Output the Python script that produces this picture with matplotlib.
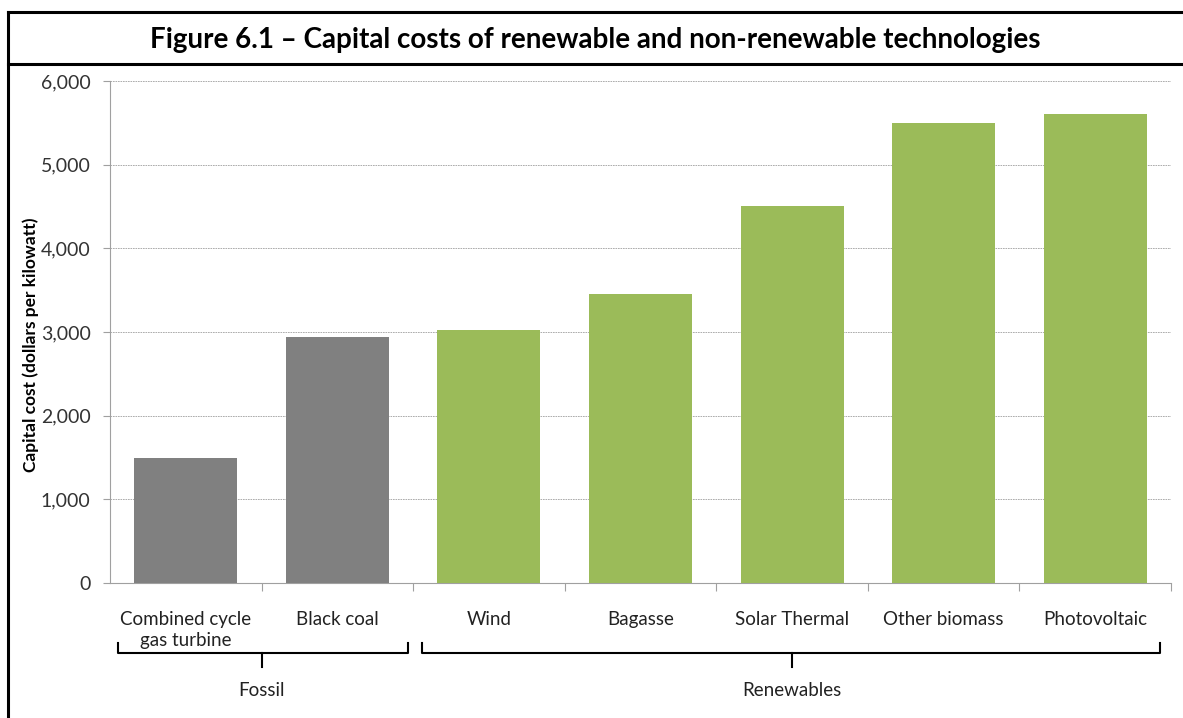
import matplotlib
matplotlib.use("Agg")
import matplotlib.pyplot as plt
from matplotlib.lines import Line2D
from matplotlib.ticker import FuncFormatter, MultipleLocator
import matplotlib.transforms as mtransforms

categories = ["Combined cycle\ngas turbine", "Black coal", "Wind", "Bagasse",
              "Solar Thermal", "Other biomass", "Photovoltaic"]
values = [1500, 2940, 3020, 3460, 4510, 5500, 5610]
groups = ["Fossil", "Fossil", "Renewables", "Renewables", "Renewables", "Renewables", "Renewables"]
group_names = ["Fossil", "Renewables"]
title = "Figure 6.1 \u2013 Capital costs of renewable and non-renewable technologies"
ylabel = "Capital cost (dollars per kilowatt)"

colors = {"Fossil": "#808080", "Renewables": "#9BBB59"}
plt.rcParams['font.family'] = ['Lato', 'DejaVu Sans']

W, H = 1183, 718
fig = plt.figure(figsize=(W / 100, H / 100), dpi=100)

def fx(px):
    return px / W

def fy(py):
    return 1 - py / H

ax = fig.add_axes([fx(110), fy(583), fx(1171) - fx(110), fy(81) - fy(583)])
x = list(range(len(categories)))
ax.bar(x, values, width=0.68, color=[colors[g] for g in groups], zorder=3)
ax.set_xlim(-0.5, len(categories) - 0.5)
ax.set_ylim(0, 6000)
ax.yaxis.set_major_locator(MultipleLocator(1000))
ax.yaxis.set_major_formatter(FuncFormatter(lambda v, p: f"{int(v):,}"))
ax.grid(axis='y', color='#A0A0A0', linestyle=(0, (2, 1)), linewidth=0.6, zorder=0)
for s in ['top', 'right']:
    ax.spines[s].set_visible(False)
ax.spines['left'].set_color('#A0A0A0')
ax.spines['bottom'].set_color('#A0A0A0')
ax.tick_params(axis='y', length=5, color='#A0A0A0', labelsize=14, labelcolor='#333333', pad=9)
# x ticks at category boundaries
ax.set_xticks([i + 0.5 for i in range(len(categories))])
ax.set_xticklabels([])
ax.set_xticks(x, minor=True)
ax.set_xticklabels(categories, minor=True, fontsize=13.5, color='#222222', linespacing=1.28)
ax.tick_params(axis='x', which='major', length=6, color='#A0A0A0')
ax.tick_params(axis='x', which='minor', length=0, pad=20)
for lbl in ax.get_xticklabels(minor=True):
    lbl.set_verticalalignment('top')

# Brackets
trans = mtransforms.blended_transform_factory(ax.transData, fig.transFigure)
def bracket(x0, x1, xc, label):
    y_top, y_line, y_tip = fy(643), fy(653), fy(667)
    ax.add_line(Line2D([x0, x0, x1, x1], [y_top, y_line, y_line, y_top], transform=trans,
                       color='black', lw=1.5, clip_on=False, solid_joinstyle='round'))
    ax.add_line(Line2D([xc, xc], [y_line, y_tip], transform=trans,
                       color='black', lw=1.5, clip_on=False))
    ax.text(xc, fy(690), label, transform=trans, fontsize=13.5, color='#222222',
            ha='center', va='center', clip_on=False)

bracket(-0.447, 1.466, 0.5, group_names[0])
bracket(1.558, 6.427, 4.0, group_names[1])

# y label
fig.text(fx(31), fy(345), ylabel, rotation=90, fontsize=12.5, fontweight='bold',
         ha='center', va='center', color='black')

# Title and frame
fig.text(0.5 + fx(8) / 2, fy(40), title, fontsize=20, fontweight='bold',
         ha='center', va='center', color='black')
fig.add_artist(Line2D([fx(8), fx(8)], [fy(12), 0], color='black', lw=2.2, transform=fig.transFigure))
fig.add_artist(Line2D([fx(8), 1], [fy(12), fy(12)], color='black', lw=2.2, transform=fig.transFigure))
fig.add_artist(Line2D([fx(8), 1], [fy(64), fy(64)], color='black', lw=2.2, transform=fig.transFigure))

fig.savefig("out.png", dpi=100)
